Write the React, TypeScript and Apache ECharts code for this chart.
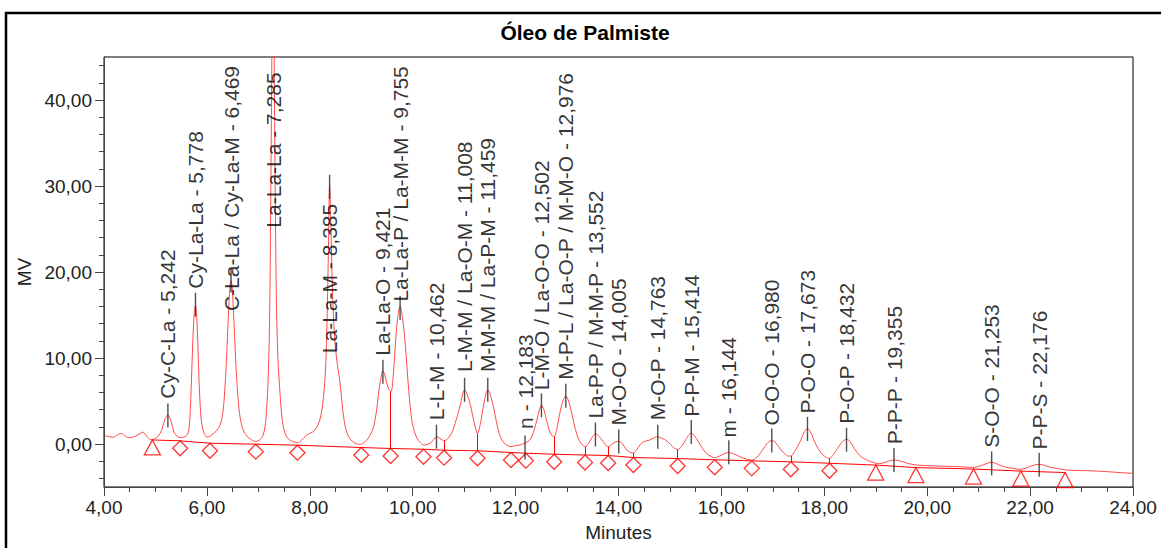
import { useEffect, useRef } from 'react';
import * as echarts from 'echarts';

const chartTitle = 'Óleo de Palmiste';
const xAxisName = 'Minutes';
const yAxisName = 'MV';

const yLabelValues = [0, 10, 20, 30, 40];
const yMinorValues = [-4, -2, 2, 4, 6, 8, 12, 14, 16, 18, 22, 24, 26, 28, 32, 34, 36, 38, 42, 44];

const peakNames = [
  'Cy-C-La - 5,242', 'Cy-La-La - 5,778', 'C-La-La / Cy-La-M - 6,469', 'La-La-La - 7,285',
  'La-La-M - 8,385', 'La-La-O - 9,421', 'La-La-P / La-M-M - 9,755', 'L-L-M - 10,462',
  'L-M-M / La-O-M - 11,008', 'M-M-M / La-P-M - 11,459', 'n - 12,183', 'L-M-O / La-O-O - 12,502',
  'M-P-L / La-O-P / M-M-O - 12,976', 'La-P-P / M-M-P - 13,552', 'M-O-O - 14,005', 'M-O-P - 14,763',
  'P-P-M - 15,414', 'm - 16,144', 'O-O-O - 16,980', 'P-O-O - 17,673', 'P-O-P - 18,432',
  'P-P-P - 19,355', 'S-O-O - 21,253', 'P-P-S - 22,176',
];
const peakTimes = [5.242, 5.778, 6.469, 7.285, 8.385, 9.421, 9.755, 10.462, 11.008, 11.459, 12.183, 12.502,
  12.976, 13.552, 14.005, 14.763, 15.414, 16.144, 16.98, 17.673, 18.432, 19.355, 21.253, 22.176];
const peakApex = [3.3, 16.2, 19.0, 60, 29.9, 8.4, 15.8, 0.85, 6.3, 6.3, -0.4, 4.5,
  5.6, 1.1, 0.3, 0.85, 1.4, -0.95, 0.4, 1.75, 0.5, -1.85, -2.25, -2.4];
const labelBottoms = [5.2, 18.0, 15.4, 25.1, 10.5, 10.2, 16.5, 2.7, 8.3, 8.3, 1.7, 6.2,
  7.4, 2.9, 2.1, 2.7, 3.1, 0.7, 2.1, 3.5, 2.3, -0.1, -0.5, -0.7];

const markerTimes = [4.94, 5.48, 6.06, 6.95, 7.76, 9.0, 9.57, 10.21, 10.61, 11.26, 11.91, 12.2, 12.75,
  13.35, 13.8, 14.29, 15.15, 15.87, 16.59, 17.35, 18.1, 19.0, 19.78, 20.9, 21.82, 22.68];
const markerBase = [0.47, 0.37, 0.09, -0.02, -0.14, -0.41, -0.52, -0.61, -0.72, -0.79, -0.99, -1.07, -1.19,
  -1.28, -1.34, -1.57, -1.69, -1.84, -1.96, -2.07, -2.24, -2.45, -2.74, -2.91, -3.15, -3.32];
const markerShapes = ['triangle', 'diamond', 'diamond', 'diamond', 'diamond', 'diamond', 'diamond', 'diamond',
  'diamond', 'diamond', 'diamond', 'diamond', 'diamond', 'diamond', 'diamond', 'diamond', 'diamond', 'diamond',
  'diamond', 'diamond', 'diamond', 'triangle', 'triangle', 'triangle', 'triangle', 'triangle'];

const dropTimes = [9.57, 10.61, 11.26, 12.75, 13.35, 13.8, 14.29, 15.15, 17.35, 18.1];
const dropBase = [-0.52, -0.72, -0.79, -1.19, -1.28, -1.34, -1.57, -1.69, -2.07, -2.24];
const dropTop = [6.1, 0.4, 1.24, 0.85, -0.3, -0.3, -1.05, -0.62, -1.4, -1.67];

const curveTimes = [
  4.02, 4.1, 4.18, 4.26, 4.34, 4.41, 4.47, 4.54, 4.6, 4.68, 4.76, 4.83, 4.9, 4.97, 5.05, 5.12, 5.18, 5.242,
  5.3, 5.36, 5.42, 5.48, 5.54, 5.6, 5.64, 5.67, 5.7, 5.73, 5.755, 5.778, 5.8, 5.825, 5.85, 5.88, 5.91, 5.95,
  6.0, 6.06, 6.12, 6.18, 6.24, 6.29, 6.33, 6.37, 6.4, 6.43, 6.45, 6.469, 6.49, 6.52, 6.55, 6.58, 6.62, 6.66,
  6.72, 6.78, 6.86, 6.95, 7.03, 7.09, 7.13, 7.16, 7.19, 7.22, 7.25, 7.285, 7.32, 7.35, 7.38, 7.42, 7.46,
  7.51, 7.58, 7.67, 7.76, 7.84, 7.94, 8.02, 8.08, 8.14, 8.2, 8.25, 8.3, 8.33, 8.36, 8.385, 8.41, 8.44, 8.48,
  8.53, 8.59, 8.64, 8.69, 8.75, 8.85, 8.98, 9.08, 9.16, 9.24, 9.3, 9.35, 9.4, 9.421, 9.45, 9.5, 9.55, 9.58,
  9.62, 9.66, 9.71, 9.755, 9.8, 9.85, 9.9, 9.95, 10.0, 10.08, 10.15, 10.21, 10.28, 10.34, 10.4, 10.462,
  10.52, 10.58, 10.62, 10.68, 10.76, 10.84, 10.92, 10.97, 11.008, 11.05, 11.12, 11.19, 11.26, 11.32, 11.38,
  11.43, 11.459, 11.5, 11.57, 11.63, 11.7, 11.78, 11.85, 11.91, 12.0, 12.09, 12.183, 12.26, 12.31, 12.36,
  12.41, 12.46, 12.502, 12.55, 12.6, 12.66, 12.72, 12.75, 12.8, 12.86, 12.92, 12.976, 13.03, 13.09, 13.15,
  13.22, 13.28, 13.35, 13.42, 13.48, 13.552, 13.62, 13.7, 13.76, 13.8, 13.86, 13.93, 14.005, 14.08, 14.16,
  14.24, 14.29, 14.36, 14.43, 14.5, 14.6, 14.7, 14.763, 14.83, 14.9, 14.97, 15.05, 15.12, 15.16, 15.22,
  15.29, 15.36, 15.414, 15.47, 15.55, 15.63, 15.71, 15.8, 15.87, 15.95, 16.04, 16.144, 16.24, 16.36, 16.48,
  16.59, 16.68, 16.75, 16.81, 16.88, 16.93, 16.98, 17.04, 17.1, 17.16, 17.24, 17.3, 17.35, 17.42, 17.48,
  17.54, 17.6, 17.673, 17.73, 17.79, 17.84, 17.92, 18.0, 18.1, 18.18, 18.26, 18.34, 18.432, 18.5, 18.57,
  18.64, 18.72, 18.84, 18.95, 19.05, 19.15, 19.25, 19.355, 19.45, 19.54, 19.65, 19.8, 20.0, 20.19, 20.4,
  20.58, 20.75, 20.9, 21.0, 21.1, 21.18, 21.253, 21.33, 21.42, 21.55, 21.68, 21.81, 21.92, 22.02, 22.1,
  22.176, 22.26, 22.36, 22.52, 22.71, 22.9, 23.1, 23.3, 23.5, 23.75, 24.0,
];
const curveValues = [
  0.95, 0.85, 0.78, 1.05, 1.24, 0.95, 0.74, 0.78, 0.89, 1.15, 1.38, 0.9, 0.5, 0.55, 0.89, 1.6, 2.8, 3.4,
  2.7, 1.4, 0.9, 0.75, 0.78, 0.95, 1.4, 3.0, 7.5, 12.5, 15.3, 16.1, 15.0, 11.5, 7.0, 3.5, 2.0, 1.2,
  0.8, 0.9, 1.2, 1.5, 2.0, 2.9, 4.8, 8.5, 12.5, 16.5, 18.4, 19.0, 18.3, 15.0, 11.0, 7.5, 4.3, 2.6,
  1.4, 0.9, 0.5, 0.3, 0.5, 1.0, 2.0, 4.0, 7.5, 15, 35, 60, 35, 17, 10, 6, 3,
  1.4, 0.6, 0.3, 0.15, 0.45, 1.05, 1.3, 1.5, 2.0, 2.9, 4.6, 8.0, 13, 22, 30.0, 25.5, 18, 12.5,
  9.5, 7.0, 4.0, 2.0, 0.9, 0.2, -0.05, 0.3, 0.9, 2.0, 4.0, 6.5, 8.2, 8.5, 8.2, 7.0, 6.2, 6.1,
  7.8, 11.3, 14.8, 16.0, 14.8, 12.0, 8.0, 4.4, 2.2, 0.7, 0.15, -0.12, -0.05, 0.1, 0.45, 0.85,
  0.7, 0.45, 0.4, 0.6, 1.3, 2.7, 4.4, 5.8, 6.3, 5.9, 4.6, 2.6, 1.24, 2.5, 4.6,
  6.0, 6.3, 5.9, 4.3, 2.5, 0.9, 0.1, -0.2, -0.3, -0.2, -0.1, 0.1, 0.4, 0.8, 1.6,
  2.7, 3.9, 4.5, 4.0, 2.8, 1.5, 0.9, 0.85, 1.7, 3.6, 5.0, 5.6, 5.0, 3.6, 2.0,
  0.6, 0.0, -0.3, 0.1, 0.7, 1.2, 0.9, 0.3, -0.2, -0.3, -0.1, 0.2, 0.3, 0.0, -0.7,
  -1.0, -1.05, -0.6, 0.0, 0.3, 0.45, 0.75, 0.85, 0.7, 0.5, 0.2, -0.3, -0.6, -0.62, -0.3,
  0.3, 1.0, 1.25, 1.0, 0.3, -0.5, -1.1, -1.45, -1.59, -1.45, -1.15, -1.0, -1.15, -1.48, -1.75,
  -1.86, -1.6, -1.1, -0.6, 0.0, 0.3, 0.4, 0.25, -0.2, -0.7, -1.2, -1.4, -1.4, -0.9, -0.3,
  0.4, 1.3, 1.8, 1.4, 0.6, -0.1, -0.9, -1.4, -1.67, -1.2, -0.5, 0.2, 0.55, 0.3, -0.4,
  -1.0, -1.5, -1.9, -2.15, -2.3, -2.2, -2.0, -1.86, -1.95, -2.1, -2.3, -2.45, -2.52, -2.56, -2.6,
  -2.64, -2.68, -2.72, -2.6, -2.4, -2.22, -2.14, -2.25, -2.5, -2.72, -2.85, -2.95, -2.8, -2.55, -2.42,
  -2.37, -2.45, -2.65, -2.84, -3.03, -3.08, -3.1, -3.15, -3.22, -3.32, -3.42,
];

const fmt = (v: number) => v.toFixed(2).replace('.', ',');
const FONT = '"Liberation Sans", Arial, sans-serif';

export default function App() {
  const ref = useRef<HTMLDivElement>(null);
  useEffect(() => {
    if (!ref.current) return;
    const chart = echarts.init(ref.current, undefined, { renderer: 'svg' });
    const curve = curveTimes.map((t, i) => [t, curveValues[i]]);
    const baseline = markerTimes.map((t, i) => [t, markerBase[i]]);
    chart.setOption({
      animation: false,
      backgroundColor: '#fff',
      textStyle: { fontFamily: FONT },
      grid: { left: 104, right: 28, top: 57, bottom: 61, show: true, borderColor: '#000', borderWidth: 1, backgroundColor: 'transparent' },
      graphic: [
        { type: 'rect', shape: { x: 6, y: 13, width: 1200, height: 600 }, style: { fill: 'none', stroke: '#000', lineWidth: 2.5 }, silent: true, z: 100 },
        { type: 'text', x: 585, y: 32, style: { text: chartTitle, font: `bold 21px ${FONT}`, fill: '#000', textAlign: 'center', textVerticalAlign: 'middle' }, silent: true },
      ],
      xAxis: {
        type: 'value', min: 4, max: 24, interval: 2,
        name: xAxisName, nameLocation: 'middle', nameGap: 36,
        nameTextStyle: { fontSize: 19, color: '#222', fontFamily: FONT },
        axisLine: { show: true, onZero: false, lineStyle: { color: '#444', width: 1 } },
        axisTick: { show: true, length: 9, lineStyle: { color: '#444' } },
        minorTick: { show: true, splitNumber: 4, length: 5, lineStyle: { color: '#444' } },
        axisLabel: { formatter: fmt, fontSize: 19, color: '#222', margin: 11, fontFamily: FONT },
        splitLine: { show: false },
      },
      yAxis: [
        {
          type: 'value', min: -5, max: 45, position: 'left',
          name: yAxisName, nameLocation: 'middle', nameGap: 62,
          nameTextStyle: { fontSize: 19, color: '#222', fontFamily: FONT },
          axisLine: { show: true, onZero: false, lineStyle: { color: '#444', width: 1 } },
          axisTick: { show: true, length: 9, customValues: yLabelValues, lineStyle: { color: '#444' } },
          axisLabel: { formatter: fmt, fontSize: 19, color: '#222', margin: 12, customValues: yLabelValues, fontFamily: FONT },
          splitLine: { show: false },
        },
        {
          type: 'value', min: -5, max: 45, position: 'left', offset: 0,
          axisLine: { show: false },
          axisTick: { show: true, length: 5, customValues: yMinorValues, lineStyle: { color: '#444' } },
          axisLabel: { show: false },
          splitLine: { show: false },
        },
      ],
      series: [
        {
          type: 'line', data: curve, showSymbol: false, smooth: 0.3, clip: true,
          lineStyle: { color: '#ff4a4a', width: 1 }, z: 3, silent: true,
        },
        {
          type: 'line', data: baseline, showSymbol: false, clip: true,
          lineStyle: { color: '#ff0000', width: 1 }, z: 2, silent: true,
          markLine: {
            silent: true, symbol: ['none', 'none'], label: { show: false },
            lineStyle: { color: '#ff0000', width: 1, type: 'solid' },
            data: dropTimes.map((t, i) => [{ coord: [t, dropBase[i]] }, { coord: [t, dropTop[i]] }]),
          },
        },
        {
          type: 'scatter', silent: true, z: 4,
          data: markerTimes.map((t, i) => ({
            value: [t, markerBase[i]],
            symbol: markerShapes[i],
            symbolSize: markerShapes[i] === 'triangle' ? [16, 15] : [15, 15],
          })),
          symbolOffset: [0, 7.5],
          itemStyle: { color: 'rgba(0,0,0,0)', borderColor: '#ff0000', borderWidth: 1.3 },
        },
        {
          type: 'scatter', silent: true, z: 5, clip: true,
          symbol: 'rect', symbolSize: [1.4, 24],
          data: peakTimes.map((t, i) => [t, peakApex[i]]),
          itemStyle: { color: '#222' },
        },
        {
          type: 'scatter', silent: true, z: 6,
          symbolSize: 1,
          itemStyle: { color: 'rgba(0,0,0,0)' },
          data: peakTimes.map((t, i) => ({ name: peakNames[i], value: [t, labelBottoms[i]] })),
          label: {
            show: true, formatter: '{b}', rotate: 90, position: 'top', distance: 0,
            align: 'left', verticalAlign: 'middle', fontSize: 21, color: '#000', fontFamily: FONT,
          },
        },
      ],
    });
    return () => chart.dispose();
  }, []);
  return <div ref={ref} style={{ position: 'absolute', left: 0, top: 0, width: 1161, height: 548 }} />;
}
